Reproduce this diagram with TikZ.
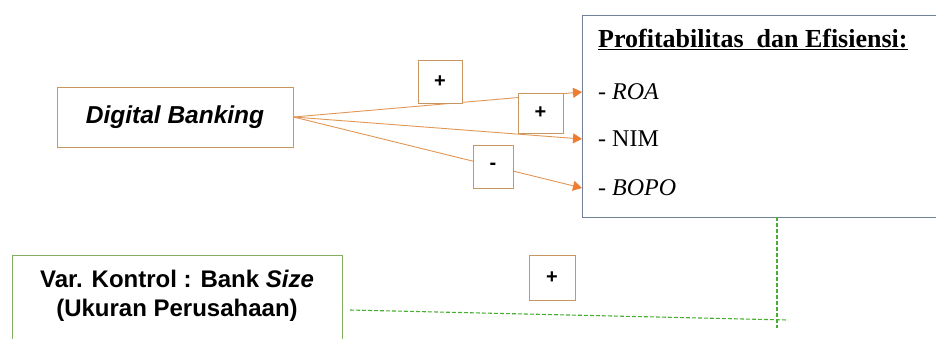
\documentclass[tikz,border=0pt]{standalone}
\usepackage{fontspec}
\setmainfont{Liberation Serif}
\setsansfont{Liberation Sans}
\usetikzlibrary{arrows.meta}

\definecolor{linkorange}{RGB}{226,150,85}
\definecolor{tipo}{RGB}{237,125,49}
\definecolor{boxtan}{RGB}{200,150,96}
\definecolor{profblue}{RGB}{112,128,150}
\definecolor{ctrlgreen}{RGB}{130,176,96}
\definecolor{dashgreen}{RGB}{70,175,50}

\tikzset{
  varbox/.style={draw=boxtan, line width=1pt, fill=white, inner sep=0pt},
  signbox/.style={draw=boxtan, line width=1pt, fill=white, inner sep=0pt,
    font=\sffamily\bfseries\fontsize{20}{22}\selectfont},
  link/.style={linkorange, line width=0.9pt, -{Triangle[length=9pt,width=10pt,color=tipo]}},
  ctrl/.style={dashgreen, line width=1.1pt, dash pattern=on 4pt off 2pt},
  item/.style={anchor=west, inner sep=0pt, font=\fontsize{24}{26}\selectfont}
}

\begin{document}
\begin{tikzpicture}[x=1pt, y=-1pt]
  \useasboundingbox (0,0) rectangle (936,338);
  \clip (0,0) rectangle (936,338);

	% Independent variable
	\node[varbox, minimum width=236pt, minimum height=60pt,
	  font=\sffamily\bfseries\itshape\fontsize{24.5}{26}\selectfont] (digital) at (175,117) {Digital Banking};

	% Dependent variables
	\node[draw=profblue, line width=1pt, fill=white, minimum width=380pt, minimum height=202pt,
	  anchor=north west] (prof) at (582,15) {};
	\node[anchor=base west, inner sep=0pt, font=\bfseries\fontsize{26}{28}\selectfont] (title) at (598,47)
	  {\underline{Profitabilitas\ \ dan\ Efisiensi:}};
	\node[item] (roa) at (598,92) {- \textit{ROA}};
	\node[item] (nim) at (598,139) {- NIM};
	\node[item] (bopo) at (598,188) {- \textit{BOPO}};

	% Control variable
	\node[draw=ctrlgreen, line width=1pt, fill=white, minimum width=330pt, minimum height=110pt,
	  anchor=north west] (kontrol) at (12,255) {};
	\node[align=center, inner sep=0pt, font=\sffamily\bfseries\fontsize{24}{29}\selectfont] (kontroltext) at (177,296)
	  {Var. Kontrol : Bank \textit{Size}\\(Ukuran Perusahaan)};

	% Links
	\coordinate (src) at (digital.east);
	\draw[link] (src) -- (roa.west -| prof.west);
	\draw[link] (src) -- (nim.west -| prof.west);
	\draw[link] (src) -- (bopo.west -| prof.west);

	% Moderation
	\coordinate (ctrlstart) at (350,310);
	\coordinate (ctrlend) at (788,320);
	\coordinate (modtop) at (777,217);
	\coordinate (modend) at (777,328);
	\draw[ctrl] (ctrlstart) -- (ctrlend);
	\draw[ctrl] (modtop) -- (modend);

	% Signs
	\node[signbox, minimum width=44pt, minimum height=43pt] (sroa) at (440,81.5) {+};
	\node[signbox, minimum width=45pt, minimum height=40pt] (snim) at (540.5,113) {+};
	\node[signbox, minimum width=40pt, minimum height=43pt] (sbopo) at (493,166.5) {-};
	\node[signbox, minimum width=46pt, minimum height=45pt] (sctrl) at (552,277.5) {+};
\end{tikzpicture}
\end{document}
